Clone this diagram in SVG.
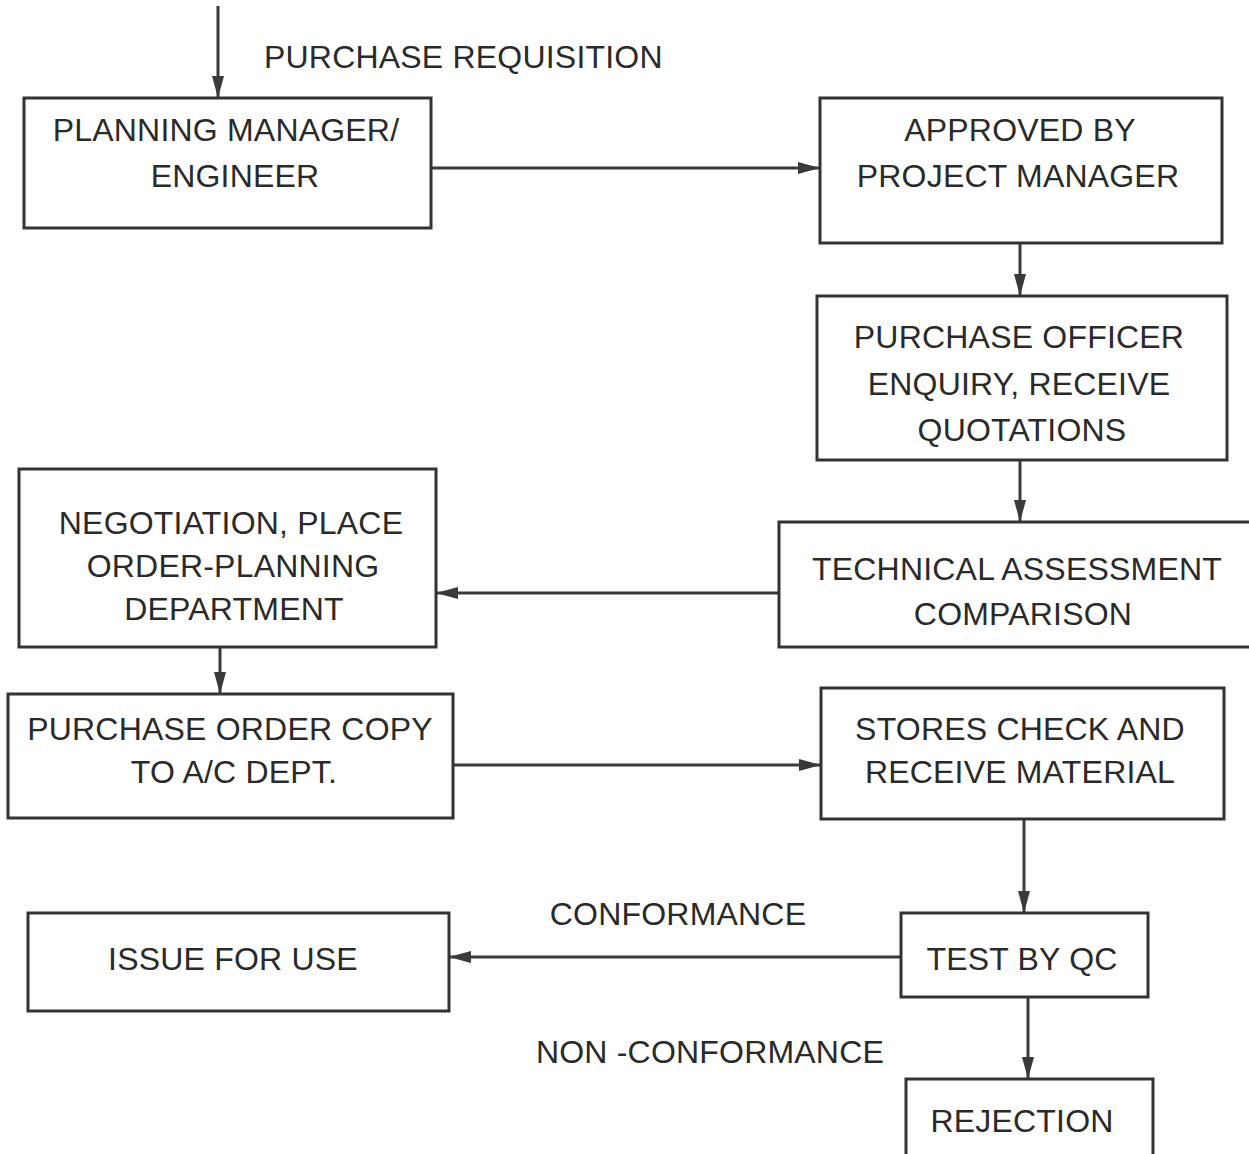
<svg xmlns="http://www.w3.org/2000/svg" width="1249" height="1154" viewBox="0 0 1249 1154">
<style>
.box{fill:#fff;stroke:#333;stroke-width:3}
.t{font-family:"Liberation Sans",Arial,sans-serif;font-size:32px;fill:#2a2a2a;text-anchor:middle;letter-spacing:0.2px}
.l{text-anchor:start}
.c{fill:none;stroke:#3a3a3a;stroke-width:3;marker-end:url(#ah)}
</style>
<defs>
<marker id="ah" markerUnits="userSpaceOnUse" markerWidth="24" markerHeight="14" refX="22" refY="7" orient="auto">
<path d="M0,1 L22,7 L0,13 z" fill="#3a3a3a"/>
</marker>
</defs>
<rect width="1249" height="1154" fill="#fff"/>
<g id="connectors">
<line class="c" x1="218" y1="6" x2="218" y2="98"/>
<line class="c" x1="431" y1="168" x2="820" y2="168"/>
<line class="c" x1="1020" y1="243" x2="1020" y2="296"/>
<line class="c" x1="1020" y1="460" x2="1020" y2="522"/>
<line class="c" x1="779" y1="593" x2="436" y2="593"/>
<line class="c" x1="220" y1="647" x2="220" y2="694"/>
<line class="c" x1="453" y1="765" x2="821" y2="765"/>
<line class="c" x1="1024" y1="819" x2="1024" y2="913"/>
<line class="c" x1="901" y1="957" x2="449" y2="957"/>
<line class="c" x1="1028" y1="997" x2="1028" y2="1079"/>
</g>
<g id="labels">
<text class="t l" x="264" y="68">PURCHASE REQUISITION</text>
<text class="t" x="678" y="925">CONFORMANCE</text>
<text class="t" x="710" y="1063">NON -CONFORMANCE</text>
</g>
<g id="planning">
<rect class="box" x="24" y="98" width="407" height="130"/>
<text class="t" x="226" y="141">PLANNING MANAGER/</text>
<text class="t" x="235" y="187">ENGINEER</text>
</g>
<g id="approved">
<rect class="box" x="820" y="98" width="402" height="145"/>
<text class="t" x="1020" y="141">APPROVED BY</text>
<text class="t" x="1018" y="187">PROJECT MANAGER</text>
</g>
<g id="purchase-officer">
<rect class="box" x="817" y="296" width="410" height="164"/>
<text class="t" x="1019" y="348">PURCHASE OFFICER</text>
<text class="t" x="1019" y="395">ENQUIRY, RECEIVE</text>
<text class="t" x="1022" y="441">QUOTATIONS</text>
</g>
<g id="technical">
<rect class="box" x="779" y="522" width="490" height="125"/>
<text class="t" x="1017" y="580">TECHNICAL ASSESSMENT</text>
<text class="t" x="1023" y="625">COMPARISON</text>
</g>
<g id="negotiation">
<rect class="box" x="19" y="469" width="417" height="178"/>
<text class="t" x="231" y="534">NEGOTIATION, PLACE</text>
<text class="t" x="233" y="577">ORDER-PLANNING</text>
<text class="t" x="234" y="620">DEPARTMENT</text>
</g>
<g id="po-copy">
<rect class="box" x="8" y="694" width="445" height="124"/>
<text class="t" x="230" y="740">PURCHASE ORDER COPY</text>
<text class="t" x="234" y="783">TO A/C DEPT.</text>
</g>
<g id="stores">
<rect class="box" x="821" y="688" width="403" height="131"/>
<text class="t" x="1020" y="740">STORES CHECK AND</text>
<text class="t" x="1020" y="783">RECEIVE MATERIAL</text>
</g>
<g id="issue">
<rect class="box" x="28" y="913" width="421" height="98"/>
<text class="t" x="233" y="970">ISSUE FOR USE</text>
</g>
<g id="test">
<rect class="box" x="901" y="913" width="247" height="84"/>
<text class="t" x="1022" y="970">TEST BY QC</text>
</g>
<g id="rejection">
<rect class="box" x="906" y="1079" width="247" height="90"/>
<text class="t" x="1022" y="1132">REJECTION</text>
</g>
</svg>
